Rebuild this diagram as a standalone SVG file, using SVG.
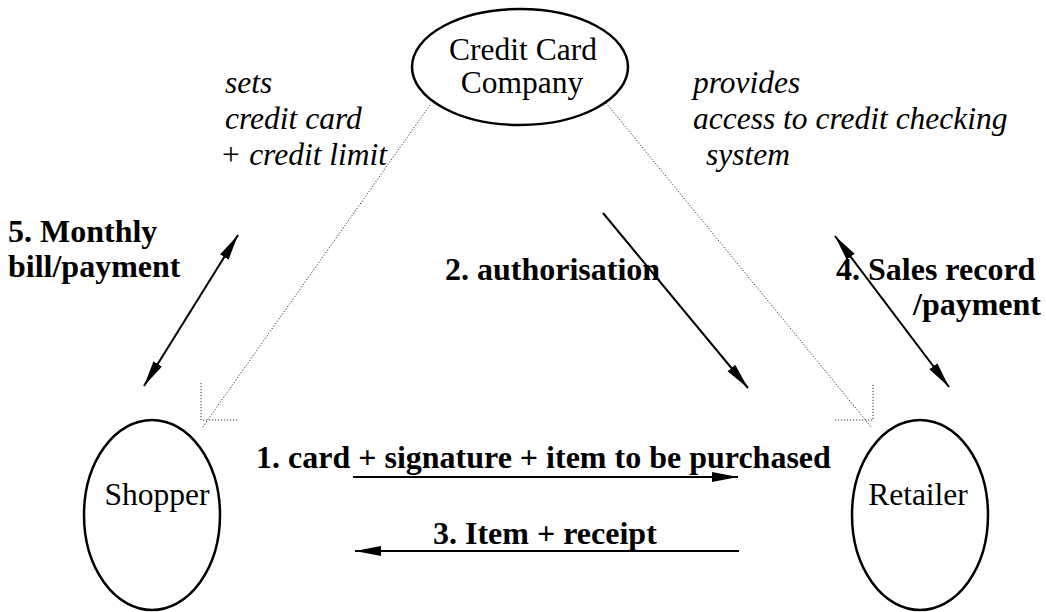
<svg xmlns="http://www.w3.org/2000/svg" width="1046" height="612" viewBox="0 0 1046 612">
  <style>
    .node { fill: none; stroke: #000; stroke-width: 2.5; }
    .lbl { font-family: "Liberation Serif", "Times New Roman", serif; font-size: 31.5px; fill: #000; }
    .it { font-family: "Liberation Serif", "Times New Roman", serif; font-size: 31.5px; font-style: italic; fill: #000; }
    .bd { font-family: "Liberation Serif", "Times New Roman", serif; font-size: 32px; font-weight: bold; fill: #000; }
    .arr { stroke: #000; stroke-width: 2; fill: none; }
    .dot { stroke: #333; stroke-width: 1; fill: none; stroke-dasharray: 1.2 1.8; }
  </style>
  <defs>
    <marker id="ah" markerUnits="userSpaceOnUse" markerWidth="28" markerHeight="12" refX="26" refY="5" orient="auto-start-reverse">
      <path d="M0,0 L26,5 L0,10 Z" fill="#000"/>
    </marker>
  </defs>
  <rect width="1046" height="612" fill="#fff"/>

  <g id="credit-card-company">
    <ellipse class="node" cx="520" cy="67" rx="108" ry="58"/>
    <text class="lbl" x="523" y="60" text-anchor="middle">Credit Card</text>
    <text class="lbl" x="522" y="93" text-anchor="middle">Company</text>
  </g>
  <g id="shopper">
    <ellipse class="node" cx="152" cy="515" rx="68" ry="95"/>
    <text class="lbl" x="157" y="505" text-anchor="middle">Shopper</text>
  </g>
  <g id="retailer">
    <ellipse class="node" cx="920" cy="515" rx="68" ry="95"/>
    <text class="lbl" x="918" y="505" text-anchor="middle">Retailer</text>
  </g>

  <g id="connectors">
    <line class="dot" x1="430" y1="105" x2="202" y2="428"/>
    <polyline class="dot" points="201,383 201,420 239,420"/>
    <line class="dot" x1="606" y1="103" x2="872" y2="428"/>
    <polyline class="dot" points="835,420 873,420 873,383"/>
    <line class="arr" x1="238" y1="235" x2="144" y2="386" marker-start="url(#ah)" marker-end="url(#ah)"/>
    <line class="arr" x1="603" y1="213" x2="748" y2="388" marker-end="url(#ah)"/>
    <line class="arr" x1="835" y1="236" x2="949" y2="387" marker-start="url(#ah)" marker-end="url(#ah)"/>
    <line class="arr" x1="353" y1="477" x2="738" y2="477" marker-end="url(#ah)"/>
    <line class="arr" x1="739" y1="551" x2="355" y2="551" marker-end="url(#ah)"/>
  </g>

  <g id="labels">
    <text class="it" x="225" y="93">sets</text>
    <text class="it" x="225" y="129">credit card</text>
    <text class="it" x="220" y="165">+ credit limit</text>
    <text class="it" x="693" y="93">provides</text>
    <text class="it" x="693" y="129">access to credit checking</text>
    <text class="it" x="706" y="165">system</text>
    <text class="bd" x="8" y="242">5. Monthly</text>
    <text class="bd" x="8" y="277">bill/payment</text>
    <text class="bd" x="445" y="280">2. authorisation</text>
    <text class="bd" x="836" y="280">4. Sales record</text>
    <text class="bd" x="913" y="315">/payment</text>
    <text class="bd" x="256" y="468">1. card + signature + item to be purchased</text>
    <text class="bd" x="433" y="544">3. Item + receipt</text>
  </g>
</svg>
